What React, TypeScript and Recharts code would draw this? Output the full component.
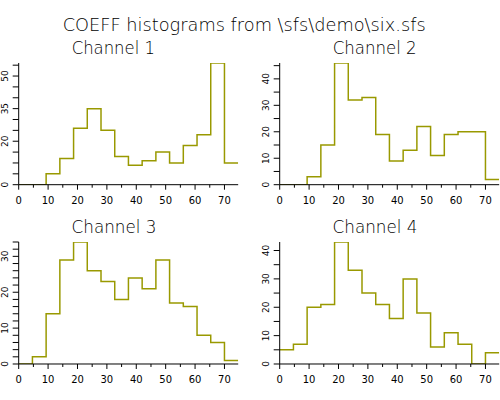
import React from "react";
import { LineChart, Line, XAxis, YAxis } from "recharts";

// Bin start positions (16 bins) and right end of last bin
const binStarts = [0, 4.67, 9.33, 14, 18.67, 23.33, 28, 32.67, 37.33, 42, 46.67, 51.33, 56, 60.67, 65.33, 70];
const binEnd = 74.67;

// Histogram counts per channel
const channel1 = [0, 0, 5, 12, 26, 35, 25, 13, 9, 11, 15, 10, 18, 23, 56, 10];
const channel2 = [0, 0, 3, 15, 46, 32, 33, 19, 9, 13, 22, 11, 19, 20, 20, 2];
const channel3 = [0, 2, 14, 29, 34, 26, 23, 18, 24, 21, 29, 17, 16, 8, 6, 1];
const channel4 = [5, 7, 20, 21, 43, 33, 25, 21, 16, 30, 18, 6, 11, 7, 0, 4];

// X axis ticks and labels
const xTicks = [0, 5, 10, 15, 20, 25, 30, 35, 40, 45, 50, 55, 60, 65, 70];
const xLabels = [0, 10, 20, 30, 40, 50, 60, 70];

// Y axis ticks and labels per channel
const yTicks1 = [0, 5, 10, 15, 20, 25, 30, 35, 40, 45, 50, 55];
const yLabels1 = [0, 20, 35, 50];
const yTicks2 = [0, 5, 10, 15, 20, 25, 30, 35, 40, 45];
const yLabels2 = [0, 10, 20, 30, 40];
const yTicks3 = [0, 2, 4, 6, 8, 10, 12, 14, 16, 18, 20, 22, 24, 26, 28, 30, 32, 34];
const yLabels3 = [0, 10, 20, 30];
const yTicks4 = [0, 5, 10, 15, 20, 25, 30, 35, 40];
const yLabels4 = [0, 10, 20, 30, 40];

const yMax = [56, 46, 34, 43];
const channelNames = ["Channel 1", "Channel 2", "Channel 3", "Channel 4"];
const title = "COEFF histograms from \\sfs\\demo\\six.sfs";

const LINE_COLOR = "#999900";
const AXIS_COLOR = "#000000";
const FONT = "'DejaVu Sans', sans-serif";
const TITLE_WEIGHT = 200;

function buildData(values: number[]) {
  const rows = binStarts.map((x, i) => ({ x, y: values[i] }));
  rows.push({ x: binEnd, y: values[values.length - 1] });
  return rows;
}

const XTick = (props: any) => {
  const { x, y, payload } = props;
  const v = payload.value;
  const major = xLabels.includes(v);
  return (
    <g>
      <line x1={x} x2={x} y1={y} y2={y + (major ? 5 : 3)} stroke={AXIS_COLOR} strokeWidth={1} />
      {major && (
        <text x={x} y={y + 19} textAnchor="middle" fontSize={10} fontFamily={FONT} fill="#000">
          {v}
        </text>
      )}
    </g>
  );
};

const makeYTick = (labels: number[]) => (props: any) => {
  const { x, y, payload } = props;
  const v = payload.value;
  const show = labels.includes(v);
  return (
    <g>
      <line x1={x - 6} x2={x} y1={y} y2={y} stroke={AXIS_COLOR} strokeWidth={1} />
      {show && (
        <text
          transform={`translate(${x - 11},${y}) rotate(-90)`}
          textAnchor="middle"
          fontSize={9}
          fontFamily={FONT}
          fill="#000"
        >
          {v}
        </text>
      )}
    </g>
  );
};

type PanelProps = {
  x0: number;
  x1: number;
  yTop: number;
  yBot: number;
  values: number[];
  ymax: number;
  yTicks: number[];
  yLabels: number[];
};

const YW = 18.7;
const MT = 5;
const XH = 25;

function Panel({ x0, x1, yTop, yBot, values, ymax, yTicks, yLabels }: PanelProps) {
  const width = YW + (x1 - x0) + 1;
  const height = MT + (yBot - yTop) + XH;
  const data = buildData(values);
  return (
    <div style={{ position: "absolute", left: x0 - YW, top: yTop - MT, width, height }}>
      <LineChart width={width} height={height} data={data} margin={{ top: MT, right: 1, left: 0, bottom: 0 }}>
        <XAxis
          dataKey="x"
          type="number"
          domain={[0, binEnd]}
          ticks={xTicks}
          interval={0}
          tickSize={0}
          tickMargin={0}
          tickLine={false}
          height={XH}
          axisLine={{ stroke: AXIS_COLOR, strokeWidth: 1 }}
          tick={<XTick />}
          allowDataOverflow
        />
        <YAxis
          type="number"
          domain={[0, ymax]}
          ticks={yTicks}
          interval={0}
          tickSize={0}
          tickMargin={0}
          tickLine={false}
          width={YW}
          axisLine={{ stroke: AXIS_COLOR, strokeWidth: 1 }}
          tick={makeYTick(yLabels)}
          allowDataOverflow
        />
        <Line
          type="stepAfter"
          dataKey="y"
          stroke={LINE_COLOR}
          strokeWidth={1.5}
          dot={false}
          activeDot={false}
          isAnimationActive={false}
        />
      </LineChart>
    </div>
  );
}

export default function App() {
  const labelProps = {
    textAnchor: "middle" as const,
    fontSize: 17,
    fontFamily: FONT,
    fontWeight: TITLE_WEIGHT,
    fill: "#000",
    lengthAdjust: "spacingAndGlyphs" as const,
  };
  return (
    <div
      style={{
        position: "absolute",
        left: 0,
        top: 0,
        width: 500,
        height: 400,
        background: "#fff",
        overflow: "hidden",
      }}
    >
      <Panel x0={18.7} x1={238.2} yTop={63.3} yBot={185} values={channel1} ymax={yMax[0]} yTicks={yTicks1} yLabels={yLabels1} />
      <Panel x0={279.7} x1={499.2} yTop={63.3} yBot={185} values={channel2} ymax={yMax[1]} yTicks={yTicks2} yLabels={yLabels2} />
      <Panel x0={18.7} x1={238.2} yTop={242.3} yBot={364.3} values={channel3} ymax={yMax[2]} yTicks={yTicks3} yLabels={yLabels3} />
      <Panel x0={279.7} x1={499.2} yTop={242.3} yBot={364.3} values={channel4} ymax={yMax[3]} yTicks={yTicks4} yLabels={yLabels4} />
      <svg
        width={500}
        height={400}
        style={{ position: "absolute", left: 0, top: 0, pointerEvents: "none" }}
      >
        <text x={244.2} y={31} textLength={363} {...labelProps}>
          {title}
        </text>
        <text x={113.3} y={54} textLength={83.3} {...labelProps}>
          {channelNames[0]}
        </text>
        <text x={374.7} y={54} textLength={84} {...labelProps}>
          {channelNames[1]}
        </text>
        <text x={114} y={233.3} textLength={85} {...labelProps}>
          {channelNames[2]}
        </text>
        <text x={375} y={233.3} textLength={85} {...labelProps}>
          {channelNames[3]}
        </text>
      </svg>
    </div>
  );
}
